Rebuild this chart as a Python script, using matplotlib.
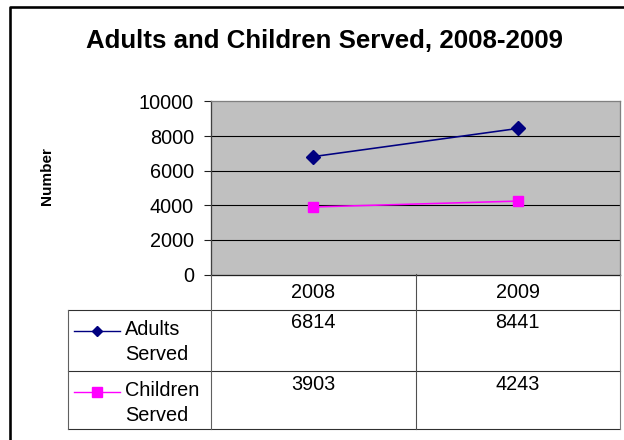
import matplotlib
matplotlib.use("Agg")
import matplotlib.pyplot as plt
from matplotlib.transforms import Affine2D, blended_transform_factory
from matplotlib.lines import Line2D

plt.rcParams['font.family'] = ['Liberation Sans', 'DejaVu Sans']

# ---- data ----
years = ["2008", "2009"]
series_names = ["Adults\nServed", "Children\nServed"]
adults = [6814, 8441]
children = [3903, 4243]
yticks = [0, 2000, 4000, 6000, 8000, 10000]
title = "Adults and Children Served, 2008-2009"
ylabel = "Number"

W, H = 624, 440
DPI = 100
fig = plt.figure(figsize=(W / DPI, H / DPI), dpi=DPI)
fig.patch.set_facecolor("white")

pix = Affine2D().scale(1.0 / W, -1.0 / H).translate(0, 1) + fig.transFigure
PX = 72.0 / DPI  # points per pixel
FS = 14.3

# plot area in pixels
L, R, T, B = 211, 620, 101.5, 274.5
ax = fig.add_axes([L / W, 1 - B / H, (R - L) / W, (B - T) / H])
ax.set_facecolor("#C0C0C0")
ax.set_xlim(-0.5, len(years) - 0.5)
ax.set_ylim(0, 10000)
ax.set_yticks(yticks)
ax.set_yticklabels([str(v) for v in yticks], fontsize=FS)
ax.set_xticks([])
for v in yticks[1:-1]:
    ax.axhline(v, color="black", lw=1.1 * PX, zorder=1)
for s in ax.spines.values():
    s.set_color("#808080")
    s.set_linewidth(1.3 * PX)
ax.spines["bottom"].set_color("#202020")
ax.spines["left"].set_color("#404040")
ax.tick_params(axis="y", length=7 * PX, width=1.1 * PX, color="#202020", pad=10 * PX)

xs = list(range(len(years)))
ax.plot(xs, adults, color="#000080", lw=1.6 * PX, marker="D", ms=7,
        mfc="#000080", mec="#000080", zorder=3, clip_on=False)
ax.plot(xs, children, color="#FF00FF", lw=1.6 * PX, marker="s", ms=7,
        mfc="#FF00FF", mec="#FF00FF", zorder=3, clip_on=False)

# title and y label
fig.text(324 / W, 1 - 41 / H, title, ha="center", va="center",
         fontsize=18.6, fontweight="bold")
fig.text(47 / W, 1 - 176 / H, ylabel, ha="center", va="center",
         rotation=90, fontsize=11, fontweight="bold")

# ---- data table ----
TL = 68
row_h = [B, 310, 371, 429]
bt = blended_transform_factory(ax.transData, pix)
lc = "#303030"
lw = 1.1 * PX

def hline(x0, x1, y, color=lc):
    fig.add_artist(Line2D([x0 / W, x1 / W], [1 - y / H, 1 - y / H],
                          transform=fig.transFigure, color=color, lw=lw))

def vline(x, y0, y1, color=lc):
    fig.add_artist(Line2D([x / W, x / W], [1 - y0 / H, 1 - y1 / H],
                          transform=fig.transFigure, color=color, lw=lw))

for y in row_h[1:]:
    hline(TL, R, y)
vline(L, B, row_h[-1], color="#606060")
vline(TL, row_h[1], row_h[-1], color="#606060")
vline(R, B, row_h[-1], color="#808080")
for i in range(1, len(years)):
    xb = (xs[i - 1] + xs[i]) / 2
    fig.add_artist(Line2D([xb, xb], [B, row_h[-1]], transform=bt, color="#505050", lw=lw))

for i, yr in enumerate(years):
    fig.text(xs[i], 292.5, yr, transform=bt, ha="center", va="center", fontsize=FS)

vals = [adults, children]
colors = ["#000080", "#FF00FF"]
markers = ["D", "s"]
for r, (name, v, c, m) in enumerate(zip(series_names, vals, colors, markers)):
    top = row_h[r + 1]
    for i in range(len(years)):
        fig.text(xs[i], top + 13, str(v[i]), transform=bt, ha="center", va="center",
                 fontsize=FS)
    fig.text(125, top + 10, name, transform=pix, ha="left", va="top",
             fontsize=FS, linespacing=1.42)
    fig.add_artist(Line2D([74, 120], [top + 21, top + 21], transform=pix,
                          color=c, lw=1.4 * PX))
    fig.add_artist(Line2D([97], [top + 21], transform=pix, color=c, marker=m,
                          ms=6.5 if m == "s" else 5.5, mfc=c, mec=c, lw=0))

# outer chart frame (left and top edges visible)
fig.add_artist(Line2D([10 / W, 10 / W, 1.01], [-0.01, 1 - 7.5 / H, 1 - 7.5 / H],
                      transform=fig.transFigure, color="black", lw=2.6 * PX))

fig.savefig("out.png", dpi=DPI, facecolor="white")
